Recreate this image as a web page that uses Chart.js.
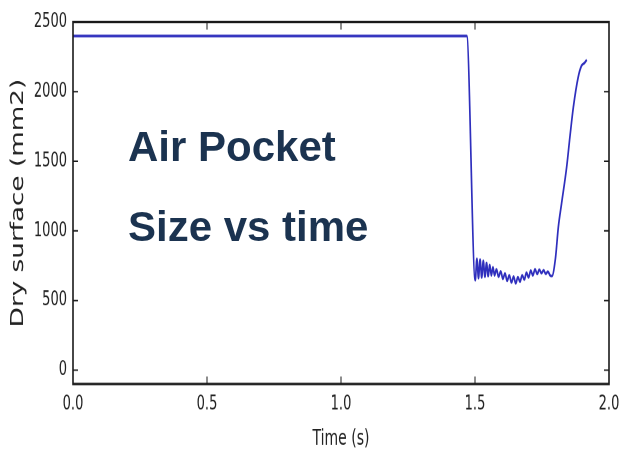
<!DOCTYPE html>
<html>
<head>
<meta charset="utf-8">
<script src="https://cdn.jsdelivr.net/npm/chart.js@4"></script>
<style>
  html, body { margin: 0; padding: 0; background: #fff; }
  body { width: 621px; height: 452px; position: relative; overflow: hidden; }
  /* the plot is laid out flat and stretched vertically */
  #plot { position: absolute; left: 0; top: 0; width: 621px; height: 301.333px;
          transform: scaleY(1.5); transform-origin: 0 0; }
  .note { position: absolute; left: 128px; white-space: nowrap; color: #1b3350;
          font: bold 42px/42px "Liberation Sans", Arial, sans-serif; }
</style>
</head>
<body>
<div id="plot"><canvas id="c"></canvas></div>
<div class="note" style="top:126px">Air Pocket</div>
<div class="note" style="top:206px">Size vs time</div>
<script>
// Time (s)
const TIME = [
  0.000, 1.469, 1.501,
  1.507, 1.513, 1.519, 1.525, 1.531, 1.537, 1.543, 1.549, 1.555, 1.561,
  1.567, 1.573, 1.580, 1.588, 1.596, 1.604, 1.612, 1.620, 1.628, 1.636,
  1.644, 1.652, 1.660, 1.668, 1.676, 1.684, 1.692, 1.700, 1.708, 1.716,
  1.724, 1.732, 1.740, 1.748, 1.756, 1.764, 1.772, 1.780, 1.787,
  1.800, 1.811, 1.823, 1.842, 1.855, 1.867, 1.885, 1.898, 1.908, 1.917
];
// Dry surface (mm2)
const AREA = [
  2400, 2400, 645,
  800, 660, 795, 665, 785, 670, 770, 675, 755, 680,
  740, 680, 725, 670, 710, 655, 695, 640, 682, 628,
  672, 622, 668, 635, 682, 650, 700, 665, 715, 680,
  725, 690, 722, 695, 718, 690, 708, 680, 675,
  800, 1028, 1196, 1458, 1690, 1889, 2104, 2188, 2205, 2229
];
const X_TICKS = [0, 0.5, 1.0, 1.5, 2.0];
const Y_TICKS = [0, 500, 1000, 1500, 2000, 2500];

const TICK_FONT = { family: 'DejaVu Sans', size: 13 };

// box frame with inward tick marks on all four sides
const frameAndTicks = {
  id: 'frameAndTicks',
  afterDatasetsDraw(chart) {
    const { ctx, chartArea: a, scales: { x, y } } = chart;
    ctx.save();
    ctx.strokeStyle = '#1a1a1a';
    ctx.lineWidth = 1;
    ctx.beginPath();
    X_TICKS.forEach(v => {
      const px = x.getPixelForValue(v);
      ctx.moveTo(px, a.bottom); ctx.lineTo(px, a.bottom - 5);
      ctx.moveTo(px, a.top); ctx.lineTo(px, a.top + 5);
    });
    Y_TICKS.forEach(v => {
      const py = y.getPixelForValue(v);
      ctx.moveTo(a.left, py); ctx.lineTo(a.left + 5, py);
      ctx.moveTo(a.right, py); ctx.lineTo(a.right - 5, py);
    });
    ctx.stroke();
    ctx.lineWidth = 1.6;
    ctx.strokeRect(a.left, a.top, a.right - a.left, a.bottom - a.top);
    ctx.restore();
  }
};

new Chart(document.getElementById('c'), {
  type: 'line',
  data: {
    datasets: [{
      data: TIME.map((t, i) => ({ x: t, y: AREA[i] })),
      borderColor: '#2f2fbd',
      borderWidth: 1.7,
      pointRadius: 0,
      cubicInterpolationMode: 'monotone',
      fill: false
    }]
  },
  options: {
    responsive: true,
    maintainAspectRatio: false,
    animation: false,
    devicePixelRatio: 2,
    layout: { padding: { left: 0, right: 12, top: 14.7, bottom: 0 } },
    plugins: { legend: { display: false }, tooltip: { enabled: false } },
    scales: {
      x: {
        type: 'linear', min: 0, max: 2,
        afterBuildTicks: s => { s.ticks = X_TICKS.map(v => ({ value: v })); },
        afterFit: s => { s.height = 45.3; s.paddingRight = 0; s.paddingLeft = 0; },
        grid: { display: false, drawTicks: false },
        border: { display: false },
        ticks: { padding: 6, color: '#222', font: TICK_FONT, maxRotation: 0, autoSkip: false,
                 callback: v => v.toFixed(1) },
        title: { display: true, text: 'Time (s)', color: '#222',
                 font: { family: 'DejaVu Sans', size: 14 }, padding: { top: 2, bottom: 0 } }
      },
      y: {
        type: 'linear', min: -100, max: 2500,
        afterBuildTicks: s => { s.ticks = Y_TICKS.map(v => ({ value: v })); },
        afterFit: s => { s.width = 73; s.paddingTop = 0; s.paddingBottom = 0; },
        grid: { display: false, drawTicks: false },
        border: { display: false },
        ticks: { padding: 6, color: '#222', font: TICK_FONT, autoSkip: false,
                 callback: v => String(v) },
        title: { display: true, text: 'Dry surface (mm2)', color: '#222',
                 font: { family: 'DejaVu Sans', size: 17.5 }, padding: { top: 8, bottom: 0 } }
      }
    }
  },
  plugins: [frameAndTicks]
});
</script>
</body>
</html>
